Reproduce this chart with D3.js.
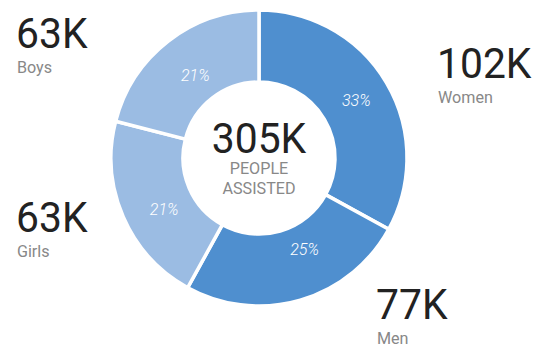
<!DOCTYPE html>
<html>
<head>
<meta charset="utf-8">
<script src="https://cdn.jsdelivr.net/npm/d3@7"></script>
<style>
  body { margin: 0; background: #fff; }
  text { font-family: Roboto, "Noto Sans", sans-serif; }
</style>
</head>
<body>
<svg id="chart"></svg>
<script>
// data
const groups = ["Women", "Men", "Girls", "Boys"];
const counts = ["102K", "77K", "63K", "63K"];
const shares = [33, 25, 21, 21];
const total = "305K";
const totalLines = ["PEOPLE", "ASSISTED"];

const width = 547, height = 352;
const cx = 259, cy = 158;
const outerR = 148, innerR = 76;
const squeeze = 0.95; // the original face is a touch narrower than Roboto

const svg = d3.select("#chart").attr("width", width).attr("height", height);

const color = d3.scaleOrdinal()
  .domain(groups)
  .range(["#4f8fcf", "#4f8fcf", "#9bbce3", "#9bbce3"]);

const pie = d3.pie().sort(null).value(d => d.share);
const arc = d3.arc().innerRadius(innerR).outerRadius(outerR);

const rows = groups.map((g, i) => ({ group: g, count: counts[i], share: shares[i] }));
const arcs = pie(rows);

const g = svg.append("g").attr("transform", `translate(${cx},${cy})`);

g.selectAll("path.slice")
  .data(arcs)
  .enter().append("path")
  .attr("class", "slice")
  .attr("d", arc)
  .style("fill", d => color(d.data.group))
  .style("stroke", "#fff")
  .style("stroke-width", 3.5);

// percent labels, nudged per slice to sit where the original has them
const labelR = { Women: 113, Men: 102, Girls: 108, Boys: 104 };
const labelTurn = { Women: 0, Men: -0.18, Girls: -0.09, Boys: 0 };

g.selectAll("text.pct")
  .data(arcs)
  .enter().append("text")
  .attr("class", "pct")
  .attr("x", d => labelR[d.data.group] * Math.sin((d.startAngle + d.endAngle) / 2 + labelTurn[d.data.group]))
  .attr("y", d => -labelR[d.data.group] * Math.cos((d.startAngle + d.endAngle) / 2 + labelTurn[d.data.group]))
  .attr("dy", "0.35em")
  .attr("text-anchor", "middle")
  .style("font-size", "16px")
  .style("font-style", "italic")
  .style("font-weight", 300)
  .style("fill", "#fff")
  .text(d => d.data.share + "%");

// centre total
const mid = g.append("g").attr("transform", `scale(${squeeze},1)`);

mid.append("text")
  .attr("y", -5)
  .attr("text-anchor", "middle")
  .style("font-size", "43px")
  .style("fill", "#222")
  .text(total);

mid.selectAll("text.sub")
  .data(totalLines)
  .enter().append("text")
  .attr("class", "sub")
  .attr("y", (d, i) => 16 + i * 20)
  .attr("text-anchor", "middle")
  .style("font-size", "17px")
  .style("fill", "#888")
  .text(d => d);

// outside callouts
const callout = { Women: [437, 78], Men: [376, 319], Girls: [16, 232], Boys: [16, 48] };

const side = svg.selectAll("g.callout")
  .data(rows)
  .enter().append("g")
  .attr("class", "callout")
  .attr("transform", d => `translate(${callout[d.group][0]},${callout[d.group][1]}) scale(${squeeze},1)`);

side.append("text")
  .style("font-size", "43px")
  .style("fill", "#222")
  .text(d => d.count);

side.append("text")
  .attr("x", 1)
  .attr("y", 25)
  .style("font-size", "17px")
  .style("fill", "#888")
  .text(d => d.group);
</script>
</body>
</html>
